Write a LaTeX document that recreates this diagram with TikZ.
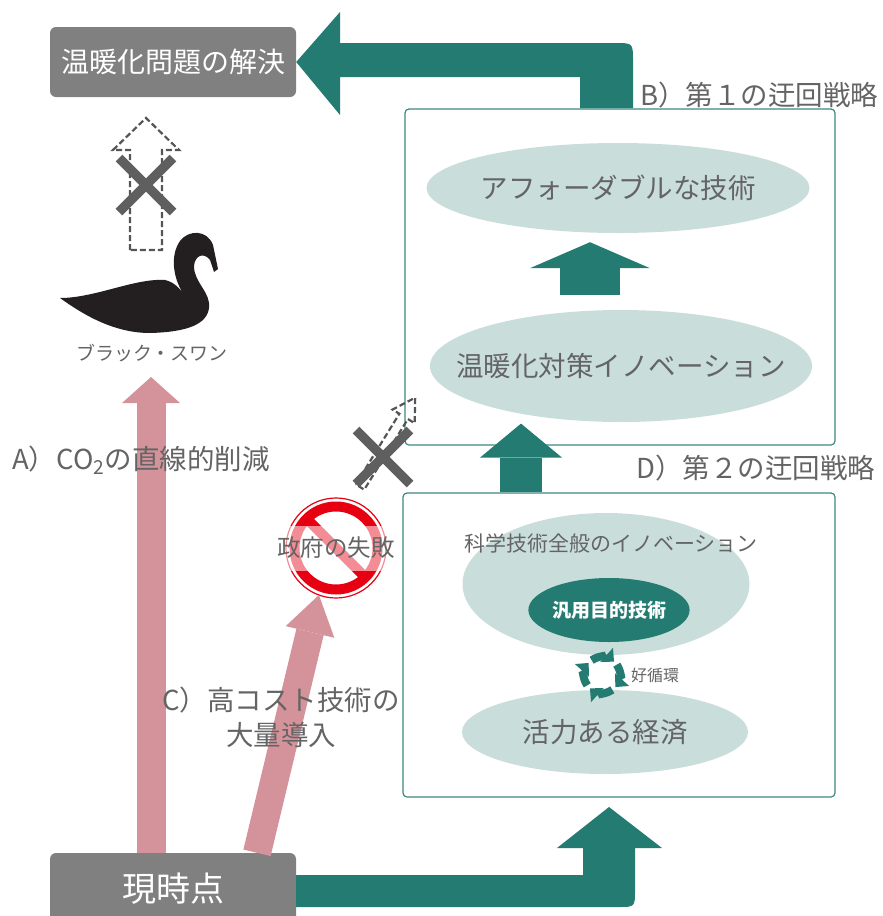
\documentclass[tikz,border=0pt]{standalone}
\usepackage{fontspec}
\setmainfont{Noto Sans CJK JP}
\usetikzlibrary{calc,positioning,shapes.geometric,arrows.meta}
\definecolor{boxgrey}{HTML}{808080}
\definecolor{inkgrey}{HTML}{646464}
\definecolor{ovalfill}{HTML}{C9DEDB}
\definecolor{stemteal}{HTML}{247B71}
\definecolor{panelline}{HTML}{3C8880}
\definecolor{pinkarrow}{HTML}{D4939A}
\definecolor{signred}{HTML}{E60012}
\definecolor{swanink}{HTML}{231F20}
\definecolor{ghostgrey}{HTML}{555555}
\definecolor{crossgrey}{HTML}{5F5F5F}

\begin{document}
\begin{tikzpicture}[x=1pt, y=-1pt,
      greybox/.style={fill=boxgrey, rounded corners=6pt, text=white,
                      minimum width=246pt, minimum height=70pt, inner sep=0pt},
      panel/.style={draw=panelline, line width=1.2pt, rounded corners=4pt,
                    inner sep=0pt},
      oval/.style={ellipse, fill=ovalfill, inner sep=0pt},
      lbl/.style={text=inkgrey, inner sep=0pt},
      big/.style={font=\fontsize{27.5}{35}\selectfont},
      fat/.style n args={3}{line width=#1,
                  -{Triangle[length=#2, width=#3, line width=0pt]}},
      ghost/.style={draw=ghostgrey, line width=2.2pt,
                    dash pattern=on 6pt off 3pt},
      cross/.style={draw=crossgrey, line width=9.5pt},
      cyc/.style={color=stemteal, line width=8pt,
                  -{Triangle[length=10pt, width=19pt, line width=0pt]}}]

    \useasboundingbox (0,0) rectangle (883,916);
    \clip (0,0) rectangle (883,916);

    % the two detour panels
    \node[panel, minimum width=430pt, minimum height=336pt] (boxB) at (620,277) {};
    \node[panel, minimum width=432pt, minimum height=304pt] (boxD) at (619,645) {};

    \node[oval, minimum width=383pt, minimum height=90pt] (afford) at (618,188) {};
    \node[lbl, big] (afford-t) at (afford) {アフォーダブルな技術};
    \node[oval, minimum width=382pt, minimum height=112pt] (innov) at (621,366) {};
    \node[lbl, big] (innov-t) at (innov) {温暖化対策イノベーション};

    \node[oval, minimum width=287pt, minimum height=142pt] (sci) at (606,584) {};
    \node[lbl, font=\fontsize{21}{24}\selectfont] (sci-t) at (611,543)
      {科学技術全般のイノベーション};
    \node[ellipse, fill=stemteal, text=white, inner sep=0pt,
          minimum width=152pt, minimum height=64pt,
          font=\fontsize{19}{22}\selectfont\bfseries] (gpt) at (609,610) {汎用目的技術};
    \node[oval, minimum width=286pt, minimum height=84pt] (econ) at (605,732) {};
    \node[lbl, big] (econ-t) at (econ) {活力ある経済};

    % virtuous circle
    \coordinate (ring) at (602,675);
    \foreach \a in {0,90,180,270}
      \draw[cyc] (ring) ++({\a-35}:18) arc[start angle={\a-35}, end angle={\a+42}, radius=18];
    \node[lbl, anchor=west, font=\fontsize{16}{18}\selectfont] (ring-t) at (631,675) {好循環};

    \node[lbl, big, anchor=west] (labB) at (640,95) {B）第１の迂回戦略};
    \node[lbl, big, anchor=west] (labD) at (636,468) {D）第２の迂回戦略};

    % steps inside the panels
    \draw[fat={60pt}{26pt}{120pt}, color=stemteal]
      ($(innov.north)+(-31,-15)$) -- ($(afford.south)+(-28,9)$);
    \draw[fat={42pt}{34pt}{82pt}, color=stemteal]
      ($(boxD.north)+(-98,0)$) -- ($(boxB.south)+(-99,-22)$);

    \node[greybox, font=\fontsize{28}{30}\selectfont] (goal) at (173,62) {温暖化問題の解決};
    \node[greybox, font=\fontsize{34}{36}\selectfont, minimum height=72pt] (now) at (173,889) {現時点};

    % the two bent routes
    \fill[stemteal] (goal.east) -- (340,12) -- (340,43) -- (615,43)
      .. controls (633,43) .. (633,61) -- (633,108) -- (580,108) -- (580,77)
      -- (340,77) -- (340,115) -- cycle;
    \fill[stemteal] ($(now.east)+(0,-14)$) -- (583,875) -- (583,848) -- (557,848)
      -- (609,807) -- (662,848) -- (635,848) -- (635,890)
      .. controls (635,907) .. (618,907) -- ($(now.east)+(0,18)$) -- cycle;

    % black swan
    \fill[swanink] (60,298)
      .. controls (95,298) and (135,278) .. (165,280)
      .. controls (174,282) and (179,288) .. (183,293)
      .. controls (173,278) and (170,255) .. (180,241)
      .. controls (188,230) and (207,229) .. (213,245)
      -- (218,269) -- (214,272) -- (210,260)
      .. controls (204,252) and (195,255) .. (194,266)
      .. controls (194,283) and (211,292) .. (209,308)
      .. controls (207,324) and (188,332) .. (150,333)
      .. controls (115,333) and (85,316) .. (60,298) -- cycle;
    \node[lbl, font=\fontsize{19}{22}\selectfont] (swan-t) at (152,353) {ブラック・スワン};

    % blocked shortcuts
    \foreach \p/\rot/\len/\sw/\hw/\hl in {{146,250}/0/132/16/33/32, {360,487}/-31.7/105/5/13/22}
      \draw[ghost, shift={(\p)}, rotate=\rot] (-\sw,0) -- (-\sw,{\hl-\len})
        -- (-\hw,{\hl-\len}) -- (0,-\len) -- (\hw,{\hl-\len}) -- (\sw,{\hl-\len})
        -- (\sw,0) -- cycle;
    \foreach \cx/\cy in {146/185, 383/457}
      \draw[cross] ({\cx-27},{\cy-27}) -- ({\cx+27},{\cy+27})
                   ({\cx+27},{\cy-27}) -- ({\cx-27},{\cy+27});

    % government failure sign
    \node[circle, draw=signred, line width=1.2pt, minimum size=100pt,
          inner sep=0pt, outer sep=0pt] (nosign) at (336,548) {};
    \draw[signred, line width=10pt] (nosign.center) circle[radius=41.5];
    \draw[signred, line width=10pt] (nosign.center) ++(225:37) -- ++(45:74);
    \node[lbl, fill=white, fill opacity=0.55, text opacity=1, minimum height=45pt,
          inner xsep=1pt, font=\fontsize{23.5}{26}\selectfont] (fail) at (336,548) {政府の失敗};

    % direct routes from now
    \coordinate (tipA) at (151,377);
    \draw[fat={29pt}{26pt}{58pt}, color=pinkarrow] ($(now.north)+(-22,0)$) -- (tipA);
    \draw[fat={28pt}{38pt}{50pt}, color=pinkarrow] ($(now.north)+(84,0)$) -- (nosign.250);

    \node[lbl, big, anchor=west] (labA) at (12,460) {A）CO\textsubscript{2}の直線的削減};
    \node[lbl, big, align=center] (labC) at (281,717) {C）高コスト技術の\\大量導入};
  \end{tikzpicture}
\end{document}
